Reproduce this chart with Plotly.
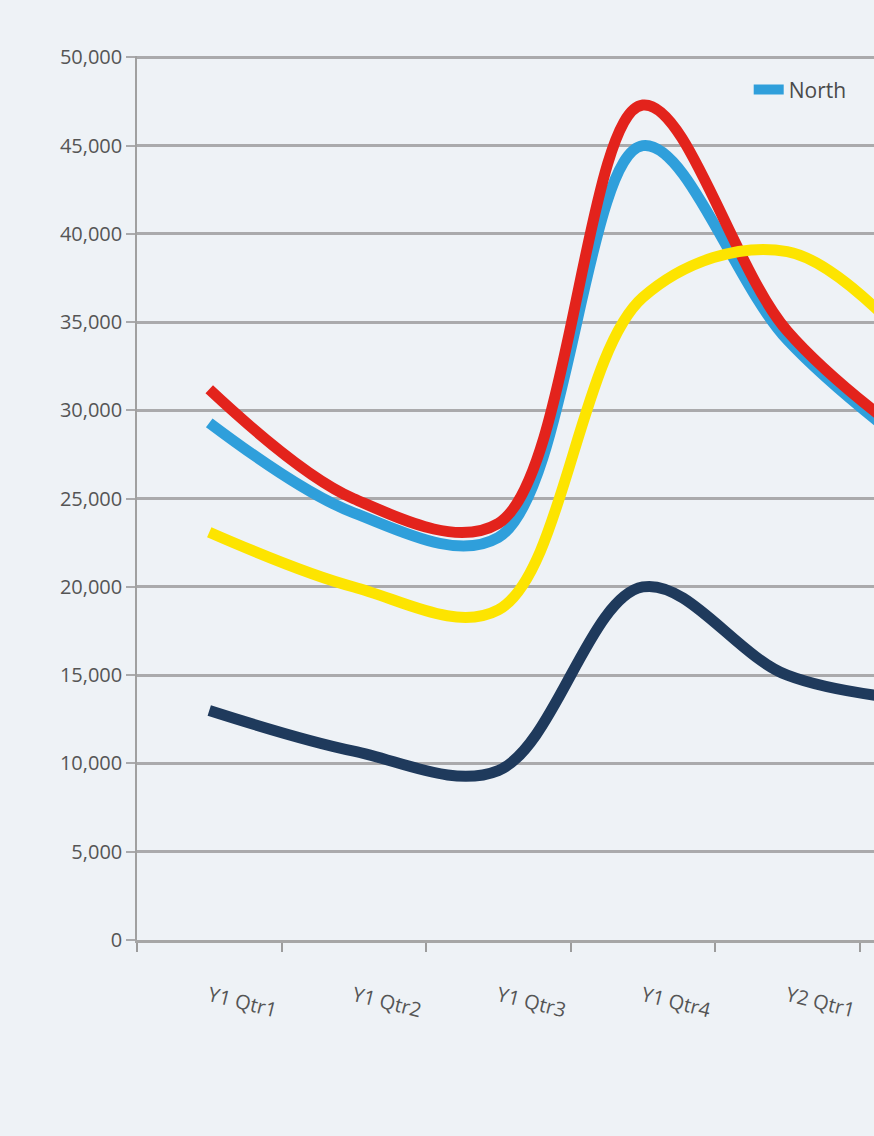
import plotly.graph_objects as go

categories = ["Y1 Qtr1", "Y1 Qtr2", "Y1 Qtr3", "Y1 Qtr4", "Y2 Qtr1", "Y2 Qtr2"]
north = [29300, 24200, 22800, 45000, 34000, 27000]
south = [31200, 25000, 23600, 47300, 34500, 27500]
east = [23100, 20000, 18700, 36400, 39000, 32500]
west = [13000, 10700, 9600, 20000, 15000, 13500]

series = [
    ("North", north, "#2f9fdb", True),
    ("South", south, "#e3231c", False),
    ("East", east, "#fde400", False),
    ("West", west, "#1f3a5c", False),
]

fig = go.Figure()
for name, vals, color, show in series:
    fig.add_trace(go.Scatter(
        x=categories, y=vals, name=name, mode="lines",
        line=dict(color=color, width=11, shape="spline", smoothing=1.0),
        showlegend=show,
    ))

bg = "#eef2f6"
fig.update_layout(
    width=874, height=1136,
    paper_bgcolor=bg, plot_bgcolor=bg,
    margin=dict(l=137, r=0, t=56, b=196),
    font=dict(family="Open Sans, sans-serif", color="#555555", size=20),
    legend=dict(x=0.83, y=0.985, xanchor="left", yanchor="top",
                bgcolor="rgba(0,0,0,0)", font=dict(size=21, color="#4a4a4a")),
)
fig.update_xaxes(
    type="category", range=[-0.5, 4.6],
    tickson="boundaries", ticks="outside", ticklen=9, tickwidth=2, tickcolor="#9c9c9c",
    showgrid=False, showline=True, linecolor="#a6a6a6", linewidth=2.5,
    tickangle=14, ticklabelstandoff=34,
    tickfont=dict(size=20, color="#555555"),
)
fig.update_yaxes(
    range=[0, 50080], tickvals=[0, 5000, 10000, 15000, 20000, 25000, 30000, 35000, 40000, 45000, 50000],
    tickformat=",",
    showgrid=True, gridcolor="#aaaaac", gridwidth=2.5,
    showline=True, linecolor="#a0a0a0", linewidth=1.5,
    ticks="outside", ticklen=9, tickcolor="#aaaaac", tickwidth=2,
    zeroline=False,
    tickfont=dict(size=20, color="#555555"),
)

fig.write_html(
    "out.html",
    config={"displayModeBar": False},
    post_script="document.body.style.margin='0';document.body.style.overflow='hidden';document.body.style.background='#eef2f6';",
)
